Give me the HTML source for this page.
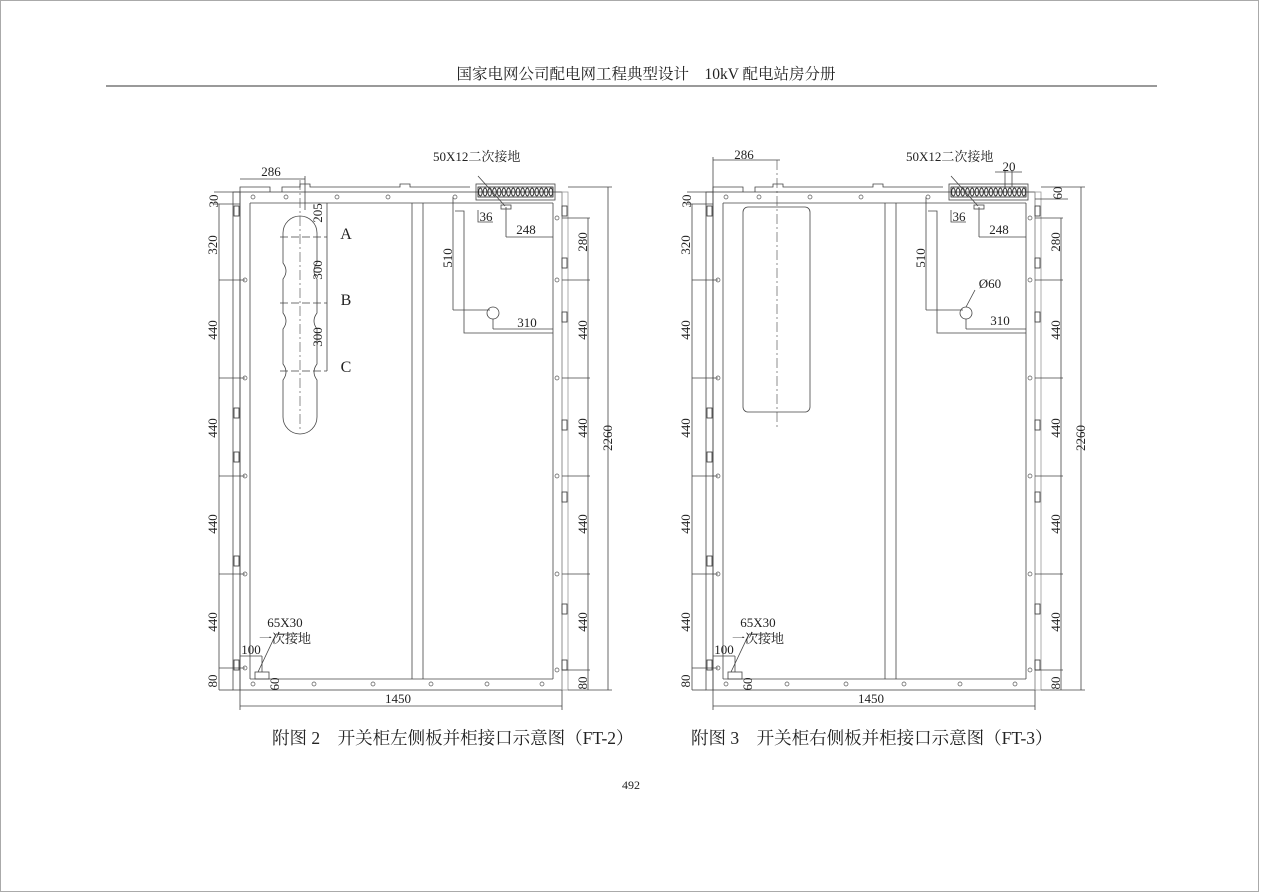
<!DOCTYPE html>
<html><head><meta charset="utf-8"><style>
body{margin:0;background:#fff}
svg{display:block}
text{font-family:"Liberation Serif","Noto Serif CJK SC","Noto Sans CJK SC",serif;fill:#222}
.d{font-family:"Liberation Sans Narrow","Liberation Sans",sans-serif;font-size:13px;fill:#555}
</style></head><body>
<svg width="1262" height="892" viewBox="0 0 1262 892" xmlns="http://www.w3.org/2000/svg">
<defs>
<pattern id="tp" x="478" y="187" width="4.7" height="10" patternUnits="userSpaceOnUse">
<ellipse cx="2.35" cy="5" rx="1.8" ry="4" fill="none" stroke="#222" stroke-width="0.9"/>
</pattern>
</defs>
<rect x="0.5" y="0.5" width="1258" height="891" fill="#fff" stroke="#aaa"/>
<text x="646" y="79" text-anchor="middle" font-size="15.5">国家电网公司配电网工程典型设计　10kV 配电站房分册</text>
<line x1="106" y1="86" x2="1157" y2="86" stroke="#333" stroke-width="1"/>

<g id="L" stroke="#444" stroke-width="0.8" fill="none">
  <rect x="240" y="192" width="322" height="498"/>
  <line x1="250" y1="203" x2="250" y2="679"/>
  <line x1="250" y1="203" x2="553" y2="203"/>
  <line x1="553" y1="203" x2="553" y2="679"/>
  <line x1="250" y1="679" x2="553" y2="679"/>
  <rect x="233" y="192" width="7" height="498"/>
  <rect x="562" y="192" width="6" height="498" stroke="#999"/>
  <polyline points="240,192 240,187 270,187 270,192"/>
  <polyline points="282,192 282,187 300,187 300,184 310,184 310,187 400,187 400,184 410,184 410,187 470,187"/>
  <line x1="412" y1="203" x2="412" y2="679"/>
  <line x1="423" y1="203" x2="423" y2="679"/>
  <rect x="476" y="184" width="79" height="16"/>
  <rect x="478" y="187" width="75" height="10" fill="url(#tp)" stroke="#222"/>
  <polyline points="455,211 464,211 464,333 553,333"/>
  <line x1="453" y1="197" x2="453" y2="310"/>
  <line x1="453" y1="310" x2="490" y2="310"/>
  <circle cx="493" cy="313" r="6"/>
  <line x1="493" y1="319" x2="493" y2="329"/>
  <line x1="493" y1="329" x2="553" y2="329"/>
  <line x1="506" y1="207" x2="506" y2="237"/>
  <line x1="506" y1="237" x2="553" y2="237"/>
  <rect x="501" y="205" width="10" height="4"/>
  <polyline points="478,210 478,222 493,222"/>
  <line x1="478" y1="176" x2="505" y2="206"/>
  <line x1="219" y1="204" x2="219" y2="690"/>
  <line x1="214" y1="204" x2="240" y2="204"/>
  <line x1="214" y1="192" x2="240" y2="192"/>
  <g>
    <line x1="219" y1="280" x2="245" y2="280"/><line x1="219" y1="378" x2="245" y2="378"/>
    <line x1="219" y1="476" x2="245" y2="476"/><line x1="219" y1="574" x2="245" y2="574"/>
    <line x1="219" y1="668" x2="245" y2="668"/><line x1="219" y1="690" x2="233" y2="690"/>
    <line x1="562" y1="218" x2="590" y2="218"/><line x1="562" y1="280" x2="590" y2="280"/>
    <line x1="562" y1="378" x2="590" y2="378"/><line x1="562" y1="476" x2="590" y2="476"/>
    <line x1="562" y1="574" x2="590" y2="574"/><line x1="562" y1="670" x2="590" y2="670"/>
    <line x1="568" y1="690" x2="612" y2="690"/>
  </g>
  <line x1="588" y1="218" x2="588" y2="690"/>
  <line x1="568" y1="187" x2="612" y2="187"/>
  <line x1="608" y1="187" x2="608" y2="690"/>
  <g stroke="#333">
    <rect x="234" y="206" width="5" height="10"/><rect x="234" y="408" width="5" height="10"/>
    <rect x="234" y="452" width="5" height="10"/><rect x="234" y="556" width="5" height="10"/>
    <rect x="234" y="660" width="5" height="10"/>
    <rect x="562" y="206" width="5" height="10"/><rect x="562" y="258" width="5" height="10"/>
    <rect x="562" y="312" width="5" height="10"/><rect x="562" y="420" width="5" height="10"/>
    <rect x="562" y="492" width="5" height="10"/><rect x="562" y="604" width="5" height="10"/>
    <rect x="562" y="660" width="5" height="10"/>
  </g>
  <line x1="240" y1="706" x2="562" y2="706"/>
  <line x1="240" y1="690" x2="240" y2="710"/><line x1="562" y1="690" x2="562" y2="710"/>
  <rect x="255" y="672" width="14" height="7"/>
  <line x1="258" y1="672" x2="276" y2="634"/>
  <line x1="276" y1="634" x2="300" y2="634"/>
  <line x1="240" y1="656" x2="262" y2="656"/>
  <line x1="262" y1="656" x2="262" y2="672"/>
  <g fill="none" stroke="#555" stroke-width="0.7">
    <circle cx="253" cy="684" r="2"/><circle cx="314" cy="684" r="2"/><circle cx="373" cy="684" r="2"/>
    <circle cx="431" cy="684" r="2"/><circle cx="487" cy="684" r="2"/><circle cx="542" cy="684" r="2"/>
    <circle cx="253" cy="197" r="2"/><circle cx="286" cy="197" r="2"/><circle cx="337" cy="197" r="2"/>
    <circle cx="388" cy="197" r="2"/><circle cx="455" cy="197" r="2"/>
    <circle cx="245" cy="280" r="2"/><circle cx="245" cy="378" r="2"/><circle cx="245" cy="476" r="2"/><circle cx="245" cy="574" r="2"/><circle cx="245" cy="668" r="2"/>
    <circle cx="557" cy="218" r="2"/><circle cx="557" cy="280" r="2"/><circle cx="557" cy="378" r="2"/><circle cx="557" cy="476" r="2"/><circle cx="557" cy="574" r="2"/><circle cx="557" cy="670" r="2"/>
  </g>
</g>
<use href="#L" transform="translate(473,0)"/>

<g stroke="#444" stroke-width="0.8" fill="none">
  <path d="M300,216 a17,17 0 0 1 17,17 v30 q-6,8 0,16 v34 q-6,8 0,16 v35 q-6,8 0,16 v37 a17,17 0 0 1 -34,0 v-37 q6,-8 0,-16 v-35 q6,-8 0,-16 v-34 q6,-8 0,-16 v-30 a17,17 0 0 1 17,-17z"/>
  <line x1="300" y1="180" x2="300" y2="430" stroke-dasharray="10,3,2,3" stroke-width="0.6"/>
  <line x1="280" y1="237" x2="327" y2="237" stroke-dasharray="8,3"/>
  <line x1="280" y1="303" x2="327" y2="303" stroke-dasharray="8,3"/>
  <line x1="280" y1="371" x2="327" y2="371" stroke-dasharray="8,3"/>
  <line x1="327" y1="203" x2="327" y2="371"/>
  <line x1="240" y1="179" x2="305" y2="179"/>
  <line x1="305" y1="176" x2="305" y2="210"/>
</g>
<text x="346" y="239" font-size="16" text-anchor="middle">A</text>
<text x="346" y="305" font-size="16" text-anchor="middle">B</text>
<text x="346" y="372" font-size="16" text-anchor="middle">C</text>

<g stroke="#444" stroke-width="0.8" fill="none">
  <rect x="743" y="207" width="67" height="205" rx="5"/>
  <line x1="777" y1="160" x2="777" y2="430" stroke-dasharray="10,3,2,3" stroke-width="0.6"/>
  <line x1="713" y1="160" x2="780" y2="160"/>
  <line x1="713" y1="157" x2="713" y2="192"/>
  <line x1="1005" y1="170" x2="1005" y2="187"/><line x1="1012" y1="170" x2="1012" y2="187"/>
  <line x1="995" y1="172" x2="1022" y2="172"/>
  <line x1="1035" y1="199" x2="1068" y2="199"/>
  <line x1="975" y1="290" x2="966" y2="307"/>
</g>

<g class="d">
  <text x="271" y="176" text-anchor="middle">286</text>
  <text x="744" y="159" text-anchor="middle">286</text>
  <text transform="translate(218,201) rotate(-90)" text-anchor="middle">30</text>
  <text transform="translate(691,201) rotate(-90)" text-anchor="middle">30</text>
  <text transform="translate(322,213) rotate(-90)" text-anchor="middle">205</text>
  <text transform="translate(322,270) rotate(-90)" text-anchor="middle">300</text>
  <text transform="translate(322,337) rotate(-90)" text-anchor="middle">300</text>
  <text x="486" y="221" text-anchor="middle">36</text><text x="959" y="221" text-anchor="middle">36</text>
  <text x="526" y="234" text-anchor="middle">248</text><text x="999" y="234" text-anchor="middle">248</text>
  <text x="527" y="327" text-anchor="middle">310</text><text x="1000" y="325" text-anchor="middle">310</text>
  <text transform="translate(452,258) rotate(-90)" text-anchor="middle">510</text>
  <text transform="translate(925,258) rotate(-90)" text-anchor="middle">510</text>
  <text x="990" y="288" text-anchor="middle">Ø60</text>
  <text x="1009" y="171" text-anchor="middle">20</text>
  <text transform="translate(1062,193) rotate(-90)" text-anchor="middle">60</text>
  <text transform="translate(612,438) rotate(-90)" text-anchor="middle">2260</text>
  <text transform="translate(1085,438) rotate(-90)" text-anchor="middle">2260</text>
  <text x="398" y="703" text-anchor="middle">1450</text><text x="871" y="703" text-anchor="middle">1450</text>
  <text x="251" y="654" text-anchor="middle">100</text><text x="724" y="654" text-anchor="middle">100</text>
  <text transform="translate(279,684) rotate(-90)" text-anchor="middle">60</text>
  <text transform="translate(752,684) rotate(-90)" text-anchor="middle">60</text>
</g>
<g class="d">
  <text transform="translate(217,245) rotate(-90)" text-anchor="middle">320</text>
  <text transform="translate(217,330) rotate(-90)" text-anchor="middle">440</text>
  <text transform="translate(217,428) rotate(-90)" text-anchor="middle">440</text>
  <text transform="translate(217,524) rotate(-90)" text-anchor="middle">440</text>
  <text transform="translate(217,622) rotate(-90)" text-anchor="middle">440</text>
  <text transform="translate(217,681) rotate(-90)" text-anchor="middle">80</text>
  <text transform="translate(587,242) rotate(-90)" text-anchor="middle">280</text>
  <text transform="translate(587,330) rotate(-90)" text-anchor="middle">440</text>
  <text transform="translate(587,428) rotate(-90)" text-anchor="middle">440</text>
  <text transform="translate(587,524) rotate(-90)" text-anchor="middle">440</text>
  <text transform="translate(587,622) rotate(-90)" text-anchor="middle">440</text>
  <text transform="translate(587,683) rotate(-90)" text-anchor="middle">80</text>
</g>
<g class="d" transform="translate(473,0)">
  <text transform="translate(217,245) rotate(-90)" text-anchor="middle">320</text>
  <text transform="translate(217,330) rotate(-90)" text-anchor="middle">440</text>
  <text transform="translate(217,428) rotate(-90)" text-anchor="middle">440</text>
  <text transform="translate(217,524) rotate(-90)" text-anchor="middle">440</text>
  <text transform="translate(217,622) rotate(-90)" text-anchor="middle">440</text>
  <text transform="translate(217,681) rotate(-90)" text-anchor="middle">80</text>
  <text transform="translate(587,242) rotate(-90)" text-anchor="middle">280</text>
  <text transform="translate(587,330) rotate(-90)" text-anchor="middle">440</text>
  <text transform="translate(587,428) rotate(-90)" text-anchor="middle">440</text>
  <text transform="translate(587,524) rotate(-90)" text-anchor="middle">440</text>
  <text transform="translate(587,622) rotate(-90)" text-anchor="middle">440</text>
  <text transform="translate(587,683) rotate(-90)" text-anchor="middle">80</text>
</g>
<text x="433" y="161" font-size="13">50X12二次接地</text>
<text x="906" y="161" font-size="13">50X12二次接地</text>
<text x="285" y="627" font-size="13" text-anchor="middle">65X30</text>
<text x="285" y="643" font-size="13" text-anchor="middle">一次接地</text>
<text x="758" y="627" font-size="13" text-anchor="middle">65X30</text>
<text x="758" y="643" font-size="13" text-anchor="middle">一次接地</text>

<text x="272" y="744" font-size="17.5">附图 2　开关柜左侧板并柜接口示意图（FT-2）</text>
<text x="691" y="744" font-size="17.5">附图 3　开关柜右侧板并柜接口示意图（FT-3）</text>
<text x="631" y="789" font-size="12" text-anchor="middle">492</text>
</svg>
</body></html>
